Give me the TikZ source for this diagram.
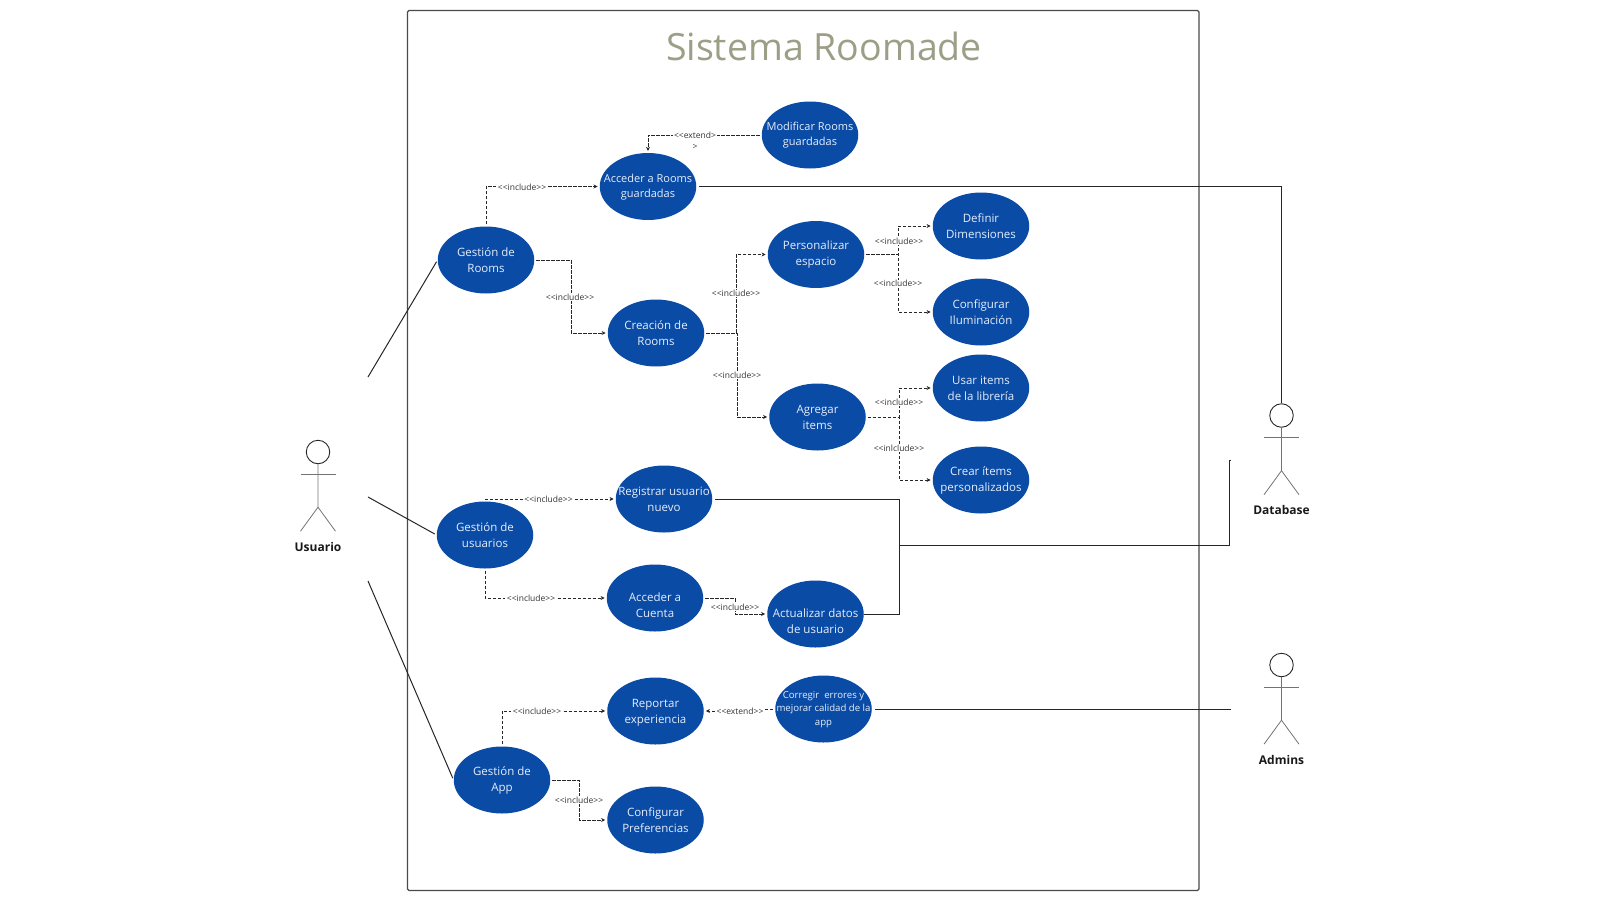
\documentclass[tikz,border=0pt]{standalone}
\usepackage{fontspec}
\setmainfont{Open Sans}
\usetikzlibrary{arrows.meta,shapes.geometric}

\definecolor{ucblue}{HTML}{0A4BA6}
\definecolor{titlegreen}{HTML}{9C9F86}
\definecolor{boxgray}{HTML}{4A4A4A}
\definecolor{ucwhite}{HTML}{E6EEFA}

\newcommand{\incl}{<{}<include>{}>}
\newcommand{\ext}{<{}<extend>{}>}

\tikzset{
  uc/.style={ellipse,fill=ucblue,minimum width=96.5pt,minimum height=67pt,inner sep=0pt},
  uctxt/.style={text=ucwhite,align=center,inner sep=0pt,yshift=-0.5pt,font=\fontsize{11.5}{16}\selectfont},
  tag/.style={fill=white,text=black!80,inner xsep=1.5pt,inner ysep=0.6pt,font=\fontsize{8.5}{10}\selectfont},
  dep/.style={draw=black!85,line width=1pt,dash pattern=on 3.5pt off 1.5pt,
    shorten <=2pt,shorten >=2pt,-{Stealth[length=4pt,width=4pt]}},
  assoc/.style={draw=black!85,line width=1pt},
  actorhead/.style={circle,draw=black!85,line width=0.9pt,minimum size=23.5pt,inner sep=0pt},
  actorline/.style={draw=black!55,line width=0.8pt},
  actorname/.style={text=black!90,font=\fontsize{12}{14}\selectfont\bfseries},
}

\begin{document}
\begin{tikzpicture}[x=1pt,y=-1pt]
\useasboundingbox (0,0) rectangle (1600,900);

\draw[draw=boxgray,line width=1.2pt,rounded corners=1.5pt] (407.5,10.5) rectangle (1199,890.5);
\node[text=titlegreen,font=\fontsize{37.5}{44}\selectfont] (titulo) at (824,46) {Sistema Roomade};

% casos de uso
\foreach \name/\x/\y/\txt in {
  GestionRooms/486/260/{Gestión de\\Rooms},
  Creacion/656/333/{Creación de\\Rooms},
  Personalizar/816/254.5/{Personalizar\\espacio},
  Agregar/817.5/417/{Agregar\\items},
  Definir/981/226/{Definir\\Dimensiones},
  Configurar/981/312/{Configurar\\Iluminación},
  Usar/981/388/{Usar items\\de la librería},
  Crear/981/480/{Crear ítems\\personalizados},
  GestionUsuarios/485/535/{Gestión de\\usuarios},
  Registrar/664/499/{Registrar usuario\\nuevo},
  GestionApp/502/780/{Gestión de\\App},
  ConfigPref/655.5/820/{Configurar\\Preferencias}}{
    \node[uc,label={[uctxt]center:\txt}] (\name) at (\x,\y) {};
  }
\node[uc,label={[uctxt,yshift=-6.5pt]center:{Acceder a\\Cuenta}}] (AccederCuenta) at (655,598) {};
\node[uc,label={[uctxt,yshift=-6.5pt]center:{Actualizar datos\\de usuario}}] (Actualizar) at (815.5,614) {};
\node[uc,label={[uctxt,yshift=-1.5pt]center:{Reportar\\experiencia}}] (Reportar) at (655.5,711) {};
\node[uc,label={[uctxt,font=\fontsize{11}{15}\selectfont]center:{Acceder a Rooms\\guardadas}}] (AccederRooms) at (648,186.5) {};
\node[uc,label={[uctxt,font=\fontsize{11}{15}\selectfont]center:{Modificar Rooms\\guardadas}}] (Modificar) at (810,135) {};
\node[uc,label={[uctxt,font=\fontsize{9.6}{13.5}\selectfont]center:{Corregir\ \ errores y\\mejorar calidad de la\\app}}] (Corregir) at (823.5,709) {};

% actores
\foreach \name/\x/\y in {Usuario/318/452,Database/1281.5/415.5,Admins/1281.5/665}{
    \node[actorhead] (\name) at (\x,\y) {};
    \draw[actorline] (\name.south) -- ++(0,43) coordinate (\name hip) -- ++(-17.5,24);
    \draw[actorline] (\name hip) -- ++(17.5,24);
    \draw[actorline] (\x-17.5,\y+22) -- (\x+17.5,\y+22);
    \node[actorname] (\name lbl) at (\x,\y+94.5) {\name};
  }

% extremos libres
\coordinate (usrA) at (368,377);
\coordinate (usrB) at (368,497);
\coordinate (usrC) at (368,581);
\coordinate (busUsers) at (899,545);
\coordinate (dbEnd) at (1231,460);
\coordinate (adminEnd) at (1231,709);

\draw[assoc,shorten >=2pt] (usrA) -- (GestionRooms.west);
\draw[assoc,shorten >=2pt] (usrB) -- (GestionUsuarios.west);
\draw[assoc,shorten >=2pt] (usrC) -- (GestionApp.west);
\draw[assoc,shorten <=3pt] (AccederRooms.east) -| (Database.north);
\draw[assoc,shorten <=3pt] (Registrar.east) -| (busUsers);
\draw[assoc] (Actualizar.east) -| (busUsers);
\draw[assoc] (busUsers) -| (1229,460) -- (dbEnd);
\draw[assoc,shorten <=3pt] (Corregir.east) -- (adminEnd);

\draw[dep] (Modificar.west) -| (AccederRooms.north);
\draw[dep] (GestionRooms.north) |- (AccederRooms.west);
\draw[dep] (GestionRooms.east) -| (571,297) |- (Creacion.west);
\draw[dep] (Creacion.east) -| (736,290) |- (Personalizar.west);
\draw[dep] (Creacion.east) -| (737,375) |- (Agregar.west);
\draw[dep] (Personalizar.east) -| (898,240) |- (Definir.west);
\draw[dep] (Personalizar.east) -| (898,284) |- (Configurar.west);
\draw[dep] (Agregar.east) -| (899,402) |- (Usar.west);
\draw[dep] (Agregar.east) -| (899,448) |- (Crear.west);
\draw[dep] (GestionUsuarios.north) |- (Registrar.west);
\draw[dep] (GestionUsuarios.south) |- (AccederCuenta.west);
\draw[dep] (AccederCuenta.east) -| (735,607) |- (Actualizar.west);
\draw[dep] (GestionApp.north) |- (Reportar.west);
\draw[dep] (GestionApp.east) -| (579,800) |- (ConfigPref.west);
\draw[dep] (Corregir.west) -| (740,711) -- (Reportar.east);

\foreach \x/\y/\txt [count=\n] in {
  522/187/{\incl},
  570/297/{\incl},
  736/293.5/{\incl},
  737/375/{\incl},
  899/241/{\incl},
  898/283.5/{\incl},
  899/402.5/{\incl},
  899/448.5/{<{}<inlclude>{}>},
  548.5/499/{\incl},
  531/598/{\incl},
  735/607/{\incl},
  537/711.5/{\incl},
  579/800/{\incl},
  740/711/{\ext}}{
    \node[tag] (tag\n) at (\x,\y) {\txt};
  }
\node[tag,align=center,font=\fontsize{8.5}{11}\selectfont] (tagExt) at (695,140.5) {<{}<extend>\\>};
\end{tikzpicture}
\end{document}
